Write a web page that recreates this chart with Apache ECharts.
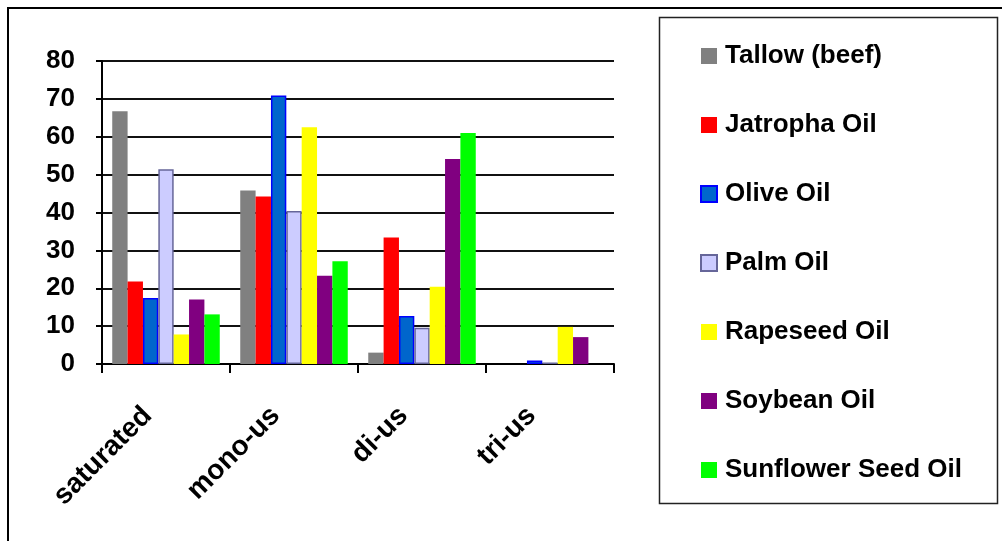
<!DOCTYPE html>
<html>
<head>
<meta charset="utf-8">
<script src="https://cdn.jsdelivr.net/npm/echarts@6/dist/echarts.min.js"></script>
<style>
  html, body { margin: 0; padding: 0; background: #fff; }
  #chart { width: 1002px; height: 541px; }
</style>
</head>
<body>
<div id="chart"></div>
<script>
// Fatty acid composition (%) of oils and fats
const categories = ['saturated', 'mono-us', 'di-us', 'tri-us'];
const yTicks = [0, 10, 20, 30, 40, 50, 60, 70, 80];

const tallow    = [66.7, 45.8, 3.0, 0];
const jatropha  = [21.8, 44.2, 33.4, 0];
const olive     = [17.4, 70.9, 12.7, 0.9];
const palm      = [51.4, 40.4, 9.6, 0.4];
const rapeseed  = [7.8, 62.5, 20.4, 9.8];
const soybean   = [17.0, 23.3, 54.1, 7.1];
const sunflower = [13.1, 27.1, 61.0, 0];

const seriesDefs = [
  { name: 'Tallow (beef)',      data: tallow,    color: '#808080', border: null },
  { name: 'Jatropha Oil',       data: jatropha,  color: '#FF0000', border: null },
  { name: 'Olive Oil',          data: olive,     color: '#0066CC', border: '#0000FF' },
  { name: 'Palm Oil',           data: palm,      color: '#CCCCFF', border: '#666699' },
  { name: 'Rapeseed Oil',       data: rapeseed,  color: '#FFFF00', border: null },
  { name: 'Soybean Oil',        data: soybean,   color: '#800080', border: null },
  { name: 'Sunflower Seed Oil', data: sunflower, color: '#00FF00', border: null }
];

const FONT = '"Liberation Sans", Arial, sans-serif';

const chart = echarts.init(document.getElementById('chart'), null, { renderer: 'canvas' });

chart.setOption({
  animation: false,
  backgroundColor: '#ffffff',
  textStyle: { fontFamily: FONT },
  grid: { left: 102, right: 388, top: 61, bottom: 177, containLabel: false },
  xAxis: {
    type: 'category',
    data: categories,
    boundaryGap: true,
    axisLine: { show: true, lineStyle: { color: '#000', width: 2 } },
    axisTick: { show: true, length: 9, lineStyle: { color: '#000', width: 2 } },
    axisLabel: {
      rotate: 45,
      margin: 29,
      padding: [0, 26, 0, 0],
      fontFamily: FONT,
      fontWeight: 'bold',
      fontSize: 28,
      color: '#000'
    },
    splitLine: { show: false }
  },
  yAxis: {
    type: 'value',
    min: yTicks[0],
    max: yTicks[yTicks.length - 1],
    interval: 10,
    axisLine: { show: true, lineStyle: { color: '#000', width: 2 } },
    axisTick: { show: true, length: 6, lineStyle: { color: '#000', width: 2 } },
    axisLabel: {
      margin: 27,
      fontFamily: FONT,
      fontWeight: 'bold',
      fontSize: 26,
      color: '#000'
    },
    splitLine: { show: true, lineStyle: { color: '#111', width: 2 } }
  },
  legend: {
    orient: 'vertical',
    left: 700,
    top: 43,
    padding: 0,
    itemWidth: 16,
    itemHeight: 16,
    itemGap: 43,
    icon: 'rect',
    selectedMode: false,
    textStyle: {
      fontFamily: FONT,
      fontWeight: 'bold',
      fontSize: 26,
      lineHeight: 26,
      color: '#000',
      padding: [0, 0, 0, 3]
    },
    data: seriesDefs.map(s => s.name)
  },
  graphic: [
    {
      type: 'rect',
      silent: true,
      shape: { x: 8, y: 8, width: 1010, height: 560 },
      style: { fill: 'none', stroke: '#000', lineWidth: 2 }
    },
    {
      type: 'rect',
      silent: true,
      shape: { x: 659.5, y: 17.5, width: 338, height: 486 },
      style: { fill: 'none', stroke: '#222', lineWidth: 1.5 }
    }
  ],
  series: seriesDefs.map(s => ({
    name: s.name,
    type: 'bar',
    data: s.data,
    barGap: '0%',
    barCategoryGap: '16%',
    itemStyle: {
      color: s.color,
      borderColor: s.border || s.color,
      borderWidth: s.border ? 1.5 : 0
    }
  }))
});
</script>
</body>
</html>
